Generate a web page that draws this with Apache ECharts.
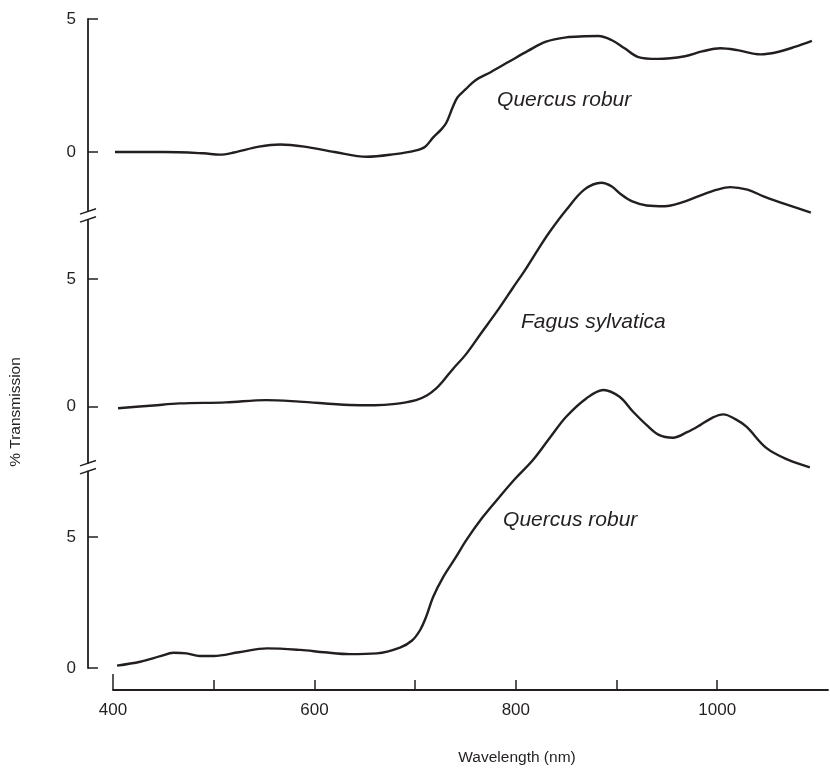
<!DOCTYPE html>
<html>
<head>
<meta charset="utf-8">
<title>Leaf transmission spectra</title>
<script src="https://cdn.jsdelivr.net/npm/echarts@6/dist/echarts.min.js"></script>
<style>
  html, body { margin: 0; padding: 0; background: #ffffff; }
  #chart { width: 830px; height: 771px; }
</style>
</head>
<body>
<div id="chart"></div>
<script>
// Wavelength (nm) and % transmission for each spectrum, stacked top to bottom.
const quercusUpperNm = [402, 450, 490, 506, 520, 545, 566, 590, 620, 652, 680, 700, 710, 718, 726, 731, 737, 742, 750, 760, 775, 793, 812, 830, 850, 868, 882, 895, 908, 921, 941, 968, 985, 1003, 1020, 1043, 1059, 1077, 1094];
const quercusUpperT  = [0.0, 0.0, -0.05, -0.1, -0.02, 0.2, 0.28, 0.2, 0.0, -0.18, -0.08, 0.05, 0.2, 0.55, 0.85, 1.1, 1.65, 2.05, 2.35, 2.7, 3.0, 3.39, 3.8, 4.15, 4.31, 4.35, 4.36, 4.21, 3.9, 3.58, 3.5, 3.6, 3.78, 3.9, 3.83, 3.67, 3.75, 3.95, 4.18];

const fagusNm = [405, 440, 466, 512, 552, 585, 635, 660, 678, 701, 712, 721, 727, 738, 750, 765, 783, 797, 810, 822, 833, 850, 868, 885, 895, 905, 915, 930, 948, 965, 981, 1000, 1013, 1030, 1046, 1070, 1093];
const fagusT  = [-0.06, 0.05, 0.13, 0.17, 0.26, 0.2, 0.07, 0.06, 0.1, 0.26, 0.45, 0.72, 0.97, 1.5, 2.03, 2.85, 3.83, 4.65, 5.4, 6.15, 6.81, 7.7, 8.5, 8.77, 8.63, 8.3, 8.05, 7.88, 7.85, 8.0, 8.24, 8.5, 8.6, 8.5, 8.24, 7.9, 7.6];

const quercusLowerNm = [404, 427, 447, 460, 473, 486, 500, 525, 553, 586, 610, 635, 662, 685, 697, 705, 711, 718, 728, 740, 751, 767, 784, 800, 817, 834, 850, 870, 887, 903, 916, 930, 942, 956, 970, 983, 995, 1006, 1018, 1029, 1049, 1070, 1092];
const quercusLowerT  = [0.09, 0.24, 0.45, 0.58, 0.56, 0.46, 0.46, 0.6, 0.75, 0.69, 0.6, 0.53, 0.56, 0.78, 1.05, 1.45, 1.96, 2.72, 3.48, 4.2, 4.89, 5.75, 6.54, 7.25, 7.94, 8.8, 9.59, 10.29, 10.61, 10.35, 9.8, 9.27, 8.9, 8.79, 9.0, 9.27, 9.55, 9.68, 9.5, 9.21, 8.39, 7.95, 7.66];

const speciesNames = ['Quercus robur', 'Fagus sylvatica', 'Quercus robur'];
// where each species name sits, in [nm, %T] of its own panel
const nameAnchors = [[848, 1.95], [877, 3.32], [854, 5.65]];

const xTicks = [400, 500, 600, 700, 800, 900, 1000];
const xTickLabels = [400, 600, 800, 1000];
const yTickLabels = [0, 5];

const X_MIN = 400, X_MAX = 1110;
// y-range of each broken axis segment
const panelRanges = [[-2.2, 5], [-2.2, 7.3], [0, 7.5]];

const INK = '#231f20';
const FONT = '"Liberation Sans", Arial, Helvetica, sans-serif';

// panel layout in px
const PLOT_LEFT = 113, PLOT_WIDTH = 715;
const panels = [
  { top: 19, height: 191.5 },
  { top: 220.3, height: 242.6 },
  { top: 471.5, height: 196.5 }
];
const Y_AXIS_OFFSET = 25;
const X_AXIS_OFFSET = 22;
const AXIS_X = PLOT_LEFT - Y_AXIS_OFFSET;

const zip = (xs, ys) => xs.map((x, i) => [x, ys[i]]);
const seriesData = [
  zip(quercusUpperNm, quercusUpperT),
  zip(fagusNm, fagusT),
  zip(quercusLowerNm, quercusLowerT)
];

const grid = panels.map(p => ({ left: PLOT_LEFT, width: PLOT_WIDTH, top: p.top, height: p.height }));

const xAxis = [0, 1].map(i => ({
  type: 'value', gridIndex: i, min: X_MIN, max: X_MAX, show: false
}));
xAxis.push({
  type: 'value', gridIndex: 2, position: 'bottom', min: X_MIN, max: X_MAX, offset: X_AXIS_OFFSET,
  axisLine: { show: true, onZero: false, lineStyle: { color: INK, width: 1.8 } },
  axisTick: { show: true, inside: true, length: 10, customValues: xTicks, lineStyle: { color: INK, width: 1.5 } },
  axisLabel: { customValues: xTickLabels, margin: 12, fontSize: 17, color: INK, fontFamily: FONT, formatter: v => String(v) },
  splitLine: { show: false }
});
// longer end tick at the start of the wavelength axis
xAxis.push({
  type: 'value', gridIndex: 2, position: 'bottom', min: X_MIN, max: X_MAX, offset: X_AXIS_OFFSET,
  axisLine: { show: false, onZero: false },
  axisTick: { show: true, inside: true, length: 16, customValues: [X_MIN], lineStyle: { color: INK, width: 1.5 } },
  axisLabel: { show: false },
  splitLine: { show: false }
});

const yAxis = panelRanges.map((r, i) => ({
  type: 'value', gridIndex: i, min: r[0], max: r[1], offset: Y_AXIS_OFFSET,
  axisLine: { show: true, onZero: false, lineStyle: { color: INK, width: 1.8 } },
  axisTick: { show: true, inside: true, length: 10, customValues: yTickLabels, lineStyle: { color: INK, width: 1.5 } },
  axisLabel: { customValues: yTickLabels, margin: 12, fontSize: 17, color: INK, fontFamily: FONT },
  splitLine: { show: false }
}));

const series = seriesData.map((data, i) => ({
  type: 'line', xAxisIndex: i, yAxisIndex: i, data: data,
  smooth: 0.35, showSymbol: false, symbol: 'none', clip: false,
  lineStyle: { color: INK, width: 2.4 },
  silent: true,
  markPoint: {
    symbol: 'circle', symbolSize: 0, silent: true,
    itemStyle: { color: 'rgba(0,0,0,0)' },
    label: {
      show: true, position: 'inside', formatter: '{b}',
      fontStyle: 'italic', fontSize: 21, color: INK, fontFamily: FONT
    },
    data: [{ name: speciesNames[i], coord: nameAnchors[i] }]
  }
}));

// axis-break marks between the stacked segments
const breakMarks = [];
for (let i = 0; i < panels.length - 1; i++) {
  const gapTop = panels[i].top + panels[i].height;
  const gapBottom = panels[i + 1].top;
  const yc = (gapTop + gapBottom) / 2;
  [-4, 4].forEach(d => {
    breakMarks.push({
      type: 'line',
      shape: { x1: AXIS_X - 8, y1: yc + d + 2.7, x2: AXIS_X + 8, y2: yc + d - 2.7 },
      style: { stroke: INK, lineWidth: 1.5 }
    });
  });
}

const option = {
  backgroundColor: '#ffffff',
  animation: false,
  grid: grid,
  xAxis: xAxis,
  yAxis: yAxis,
  series: series,
  graphic: breakMarks.concat([
    {
      type: 'text', x: 517, y: 758,
      style: { text: 'Wavelength (nm)', fontSize: 15.5, fill: INK, fontFamily: FONT, align: 'center', verticalAlign: 'middle' }
    },
    {
      type: 'text', x: 16, y: 412, rotation: Math.PI / 2,
      style: { text: '% Transmission', fontSize: 15.5, fill: INK, fontFamily: FONT, align: 'center', verticalAlign: 'middle' }
    }
  ])
};

const chart = echarts.init(document.getElementById('chart'), null, { renderer: 'canvas' });
chart.setOption(option);
</script>
</body>
</html>
